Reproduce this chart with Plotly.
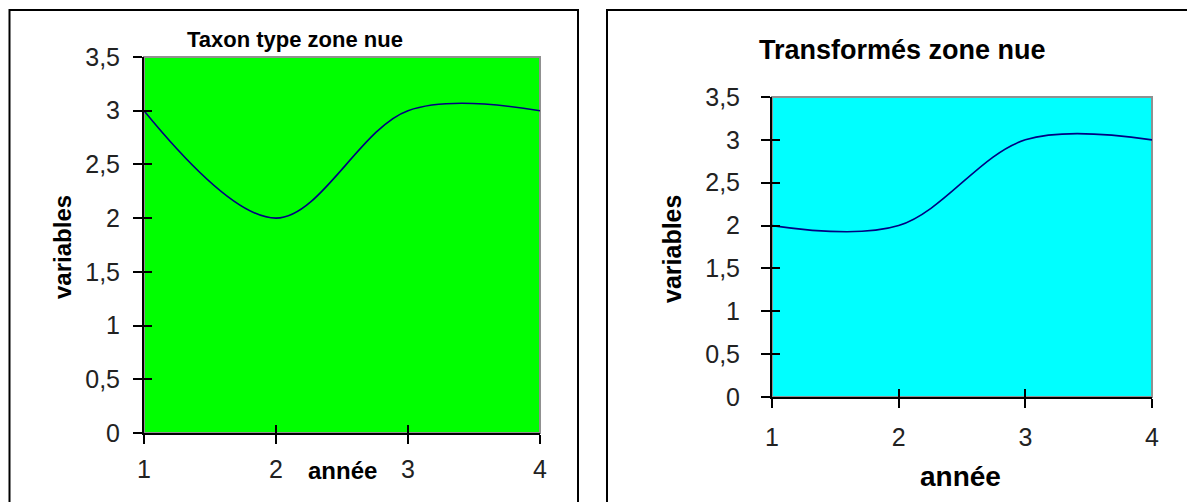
import plotly.graph_objects as go

# ---- data ----
annees = [1, 2, 3, 4]
taxon_values = [3, 2, 3, 3]
transformes_values = [2, 2, 3, 3]
y_ticks = [0, 0.5, 1, 1.5, 2, 2.5, 3, 3.5]
x_ticks = [1, 2, 3, 4]
titles = ["Taxon type zone nue", "Transformés zone nue"]

# page body has an 8px margin -> figure sits at (8, 8) in the window
OFF = 8
W, H = 1195 - OFF, 502 - OFF
def px(x): return (x - OFF) / W
def py(y): return 1 - (y - OFF) / H

LINE = "#000080"
FAM = "Liberation Sans, Arial, sans-serif"
TICKFONT1 = dict(family=FAM, size=25, color="#222222")
TICKFONT2 = dict(family=FAM, size=25, color="#222222")

fig = go.Figure()

fig.add_trace(go.Scatter(x=annees, y=taxon_values, mode="lines",
                         line=dict(color=LINE, width=1.6, shape="spline", smoothing=1),
                         xaxis="x", yaxis="y", showlegend=False, hoverinfo="skip"))
fig.add_trace(go.Scatter(x=annees, y=transformes_values, mode="lines",
                         line=dict(color=LINE, width=1.6, shape="spline", smoothing=1),
                         xaxis="x2", yaxis="y2", showlegend=False, hoverinfo="skip"))
# invisible traces for overlay (inside tick) axes
fig.add_trace(go.Scatter(x=annees, y=taxon_values, mode="lines", opacity=0,
                         xaxis="x3", yaxis="y3", showlegend=False, hoverinfo="skip"))
fig.add_trace(go.Scatter(x=annees, y=transformes_values, mode="lines", opacity=0,
                         xaxis="x4", yaxis="y4", showlegend=False, hoverinfo="skip"))

dom1x = [px(144), px(540)]
dom1y = [py(433), py(57)]
dom2x = [px(772), px(1152)]
dom2y = [py(397), py(97)]

def xax(domain, anchor, font, **kw):
    d = dict(domain=domain, anchor=anchor, range=[1, 4], tickvals=x_ticks,
             showgrid=False, zeroline=False, showline=True, linecolor="black", linewidth=2,
             ticks="outside", ticklen=9, tickwidth=2, tickcolor="black",
             tickfont=font, fixedrange=True, automargin=False)
    d.update(kw)
    return d

def yax(domain, anchor, font, **kw):
    d = dict(domain=domain, anchor=anchor, range=[0, 3.5], tickvals=y_ticks,
             showgrid=False, zeroline=False, showline=True, linecolor="black", linewidth=2,
             ticks="outside", ticklen=9, tickwidth=2, tickcolor="black",
             tickfont=font, fixedrange=True, automargin=False)
    d.update(kw)
    return d

inside = dict(ticks="inside", ticklen=8, showticklabels=False, showline=False)

fig.update_layout(
    width=W, height=H,
    margin=dict(l=0, r=0, t=0, b=0, autoexpand=False),
    paper_bgcolor="white",
    separators=", ",
    xaxis=xax(dom1x, "y", TICKFONT1, ticklabelstandoff=4),
    yaxis=yax(dom1y, "x", TICKFONT1, ticklabelstandoff=8),
    xaxis2=xax(dom2x, "y2", TICKFONT2, ticklabelstandoff=8),
    yaxis2=yax(dom2y, "x2", TICKFONT2, ticklabelstandoff=16),
    xaxis3=xax(dom1x, "y3", TICKFONT1, overlaying="x", **inside),
    yaxis3=yax(dom1y, "x3", TICKFONT1, overlaying="y", **inside),
    xaxis4=xax(dom2x, "y4", TICKFONT2, overlaying="x2", **inside),
    yaxis4=yax(dom2y, "x4", TICKFONT2, overlaying="y2", **inside),
    showlegend=False,
)

shapes = [
    dict(type="rect", xref="paper", yref="paper", x0=dom1x[0], x1=dom1x[1], y0=dom1y[0], y1=dom1y[1],
         fillcolor="#00FF00", line=dict(color="#909090", width=2), layer="below"),
    dict(type="rect", xref="paper", yref="paper", x0=dom2x[0], x1=dom2x[1], y0=dom2y[0], y1=dom2y[1],
         fillcolor="#00FFFF", line=dict(color="#909090", width=2), layer="below"),
    dict(type="rect", xref="paper", yref="paper", x0=px(9.5), x1=px(578), y0=-0.05, y1=py(10),
         line=dict(color="black", width=2), layer="below"),
    dict(type="rect", xref="paper", yref="paper", x0=px(607), x1=px(1193), y0=-0.05, y1=py(10),
         line=dict(color="black", width=2), layer="below"),
]
fig.update_layout(shapes=shapes)

ann = [
    dict(text=titles[0], x=px(295), y=py(40), size=22, angle=0),
    dict(text=titles[1], x=px(902), y=py(50), size=27, angle=0),
    dict(text="variables", x=px(62), y=py(247), size=24, angle=-90),
    dict(text="variables", x=px(672), y=py(249), size=25, angle=-90),
    dict(text="année", x=px(342), y=py(470), size=24, angle=0),
    dict(text="année", x=px(960), y=py(476), size=28, angle=0),
]
for a in ann:
    fig.add_annotation(xref="paper", yref="paper", showarrow=False,
                       xanchor="center", yanchor="middle",
                       text="<b>" + a["text"] + "</b>", x=a["x"], y=a["y"],
                       textangle=a["angle"],
                       font=dict(family=FAM, size=a["size"], color="black"))

fig.write_html("out.html")
